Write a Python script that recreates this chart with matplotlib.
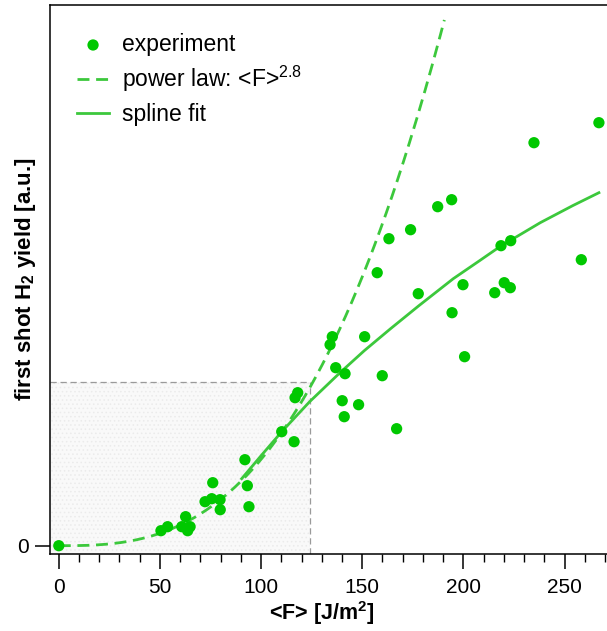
import numpy as np
import matplotlib
matplotlib.use('Agg')
import matplotlib.pyplot as plt

plt.rcParams['font.family'] = ['Liberation Sans', 'DejaVu Sans']
plt.rcParams['mathtext.fontset'] = 'custom'
plt.rcParams['mathtext.rm'] = 'Liberation Sans'
plt.rcParams['mathtext.bf'] = 'Liberation Sans:bold'
plt.rcParams['mathtext.it'] = 'Liberation Sans:italic'
plt.rcParams['mathtext.default'] = 'regular'
plt.rcParams['hatch.linewidth'] = 0.6

# experiment: fluence <F> [J/m^2] and first shot H2 yield [a.u.]
fluence = [0.0, 50.5, 53.8, 60.8, 62.7, 64.9, 63.7, 72.3, 76.1, 75.6, 79.7, 79.8,
           92.0, 93.2, 94.0, 110.2, 116.3, 116.8, 118.1, 135.2, 134.1, 151.2,
           136.9, 141.5, 159.9, 140.1, 141.1, 148.2, 167.0, 187.3, 194.2, 173.9,
           163.2, 157.4, 177.7, 199.8, 194.4, 200.6, 218.6, 223.4, 220.2, 223.2,
           215.5, 258.3, 234.9, 267.0]
yield_h2 = [0.0, 0.15, 0.19, 0.19, 0.29, 0.19, 0.15, 0.44, 0.63, 0.47, 0.46, 0.36,
            0.86, 0.60, 0.39, 1.14, 1.04, 1.48, 1.53, 2.09, 2.01, 2.09,
            1.78, 1.72, 1.70, 1.45, 1.29, 1.41, 1.17, 3.39, 3.46, 3.16,
            3.07, 2.73, 2.52, 2.61, 2.33, 1.89, 3.00, 3.05, 2.63, 2.58,
            2.53, 2.86, 4.03, 4.23]

# spline fit
spline_x = [90.4, 100.0, 110.2, 124.0, 139.0, 151.0, 164.0, 178.0, 195.0,
            208.0, 218.0, 238.0, 254.0, 267.0]
spline_y = [0.67, 0.90, 1.14, 1.44, 1.73, 1.95, 2.17, 2.40, 2.67,
            2.85, 2.99, 3.23, 3.40, 3.53]

# power law <F>^2.8, scaled through one read point
pl_exp = 2.8
pl_ref_x, pl_ref_y = 157.1, 3.06
pl_xmax = 190.6

# marked region
box_x, box_y = 124.2, 1.64

x_lo, x_hi = -4.35, 271.0
y_lo, y_hi = -0.083, 5.407

fig = plt.figure(figsize=(6.07, 6.31), dpi=100)
ax = fig.add_axes([50 / 607, 77 / 631, 1 - 50 / 607, 549 / 631])

pt_green = '#00c800'
ln_green = '#3cc83c'

ax.fill_between([x_lo, box_x], y_lo, box_y, facecolor='#f9f9f9',
                edgecolor='#ebebeb', hatch='....', linewidth=0, zorder=0)
ax.plot([x_lo, box_x], [box_y, box_y], color='#9a9a9a', lw=0.9,
        dashes=(5, 3), zorder=1)
ax.plot([box_x, box_x], [y_lo, box_y], color='#9a9a9a', lw=0.9,
        dashes=(5, 3), zorder=1)

fx = np.linspace(0, pl_xmax, 200)
ax.plot(fx, pl_ref_y * (fx / pl_ref_x) ** pl_exp, color=ln_green, lw=2.0,
        dashes=(4.3, 2.4), zorder=2, label='power law: <F>$^{2.8}$')
ax.plot(spline_x, spline_y, color=ln_green, lw=2.0, zorder=2,
        label='spline fit')
ax.scatter(fluence, yield_h2, s=66, color=pt_green, edgecolors='none',
           zorder=3, label='experiment')

ax.set_xlim(x_lo, x_hi)
ax.set_ylim(y_lo, y_hi)
ax.set_xticks([0, 50, 100, 150, 200, 250])
ax.set_xticks(np.arange(0, 271, 10), minor=True)
ax.set_yticks([0])
ax.tick_params(axis='both', which='major', length=10.5, width=1.1,
               labelsize=15, direction='out', pad=5)
ax.tick_params(axis='x', which='major', pad=7)
ax.tick_params(axis='x', which='minor', length=5.8, width=1.0, direction='out')
ax.spines['right'].set_visible(False)
for s in ['left', 'bottom', 'top']:
    ax.spines[s].set_linewidth(1.1)

ax.set_xlabel('<F> [J/m$\\mathbf{^2}$]', fontsize=15.5, fontweight='bold')
ax.set_ylabel('first shot H$\\mathbf{_2}$ yield [a.u.]', fontsize=16,
              fontweight='bold')
ax.xaxis.set_label_coords((322 - 50) / 557, -0.083)
ax.yaxis.set_label_coords(-0.022, 0.5)

handles, labels = ax.get_legend_handles_labels()
order = [2, 0, 1]
ax.legend([handles[i] for i in order], [labels[i] for i in order],
          loc='upper left', bbox_to_anchor=(77 / 607, 1 - 33 / 631),
          bbox_transform=fig.transFigure, frameon=False, fontsize=16.5,
          borderpad=0, borderaxespad=0, handlelength=1.4, handletextpad=0.57,
          labelspacing=0.36)

fig.savefig('out.png', dpi=100)
